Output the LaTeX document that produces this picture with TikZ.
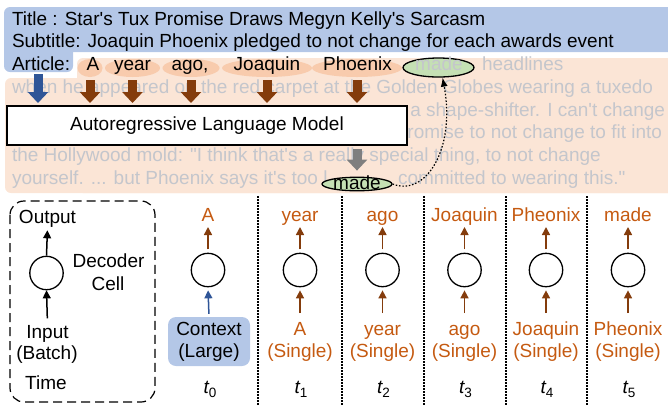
\documentclass[tikz,border=0pt]{standalone}
\usepackage{fontspec}
\setmainfont{Liberation Sans}[Ligatures=TeXOff]
\usetikzlibrary{arrows.meta,shapes.geometric}
\definecolor{tblue}{HTML}{B4C7E7}
\definecolor{peach}{HTML}{FBE5D6}
\definecolor{peachd}{HTML}{F8CBAD}
\definecolor{lgreen}{HTML}{C5E0B4}
\definecolor{brownA}{HTML}{843C0C}
\definecolor{orangeT}{HTML}{C55A11}
\definecolor{blueA}{HTML}{2F5597}
\definecolor{greyT}{RGB}{196,198,204}
\definecolor{greyA}{HTML}{7F7F7F}
\newcommand\myfs{\fontsize{19bp}{22.7bp}\selectfont}
\newcommand\mysubfs{\fontsize{13.5bp}{13.5bp}\selectfont}
\newcommand\tlab[1]{{\itshape t}\raisebox{-4bp}{\mysubfs #1}}
\begin{document}
\begin{tikzpicture}[x=1bp,y=-1bp,
  txt/.style={inner sep=0pt,outer sep=0pt,font=\myfs},
  lbl/.style={txt,anchor=base},
  hl/.style={ellipse,fill=peachd,inner sep=0pt,minimum height=18bp},
  greenell/.style={ellipse,draw,line width=1.3bp,fill=lgreen,inner sep=0pt},
  blk/.style={line width=9bp,-{Triangle[length=11bp,width=20bp]},shorten <=3bp,shorten >=3bp},
  sarr/.style={line width=1.5bp,-{Triangle[length=8bp,width=8bp]}},
  cell/.style={circle,draw,line width=1.3bp,minimum size=33.4bp,inner sep=0pt},
  sepl/.style={line width=1.2bp,dash pattern=on 1.5bp off 1.5bp},
]
\useasboundingbox (0,0) rectangle (668,405);
% title block
\fill[tblue,rounded corners=6bp] (4,7) rectangle (690,52);
\fill[tblue,rounded corners=6bp] (4,30) rectangle (73,72);
% article block
\fill[peach,rounded corners=6bp] (77,58) rectangle (690,193);
\fill[peach,rounded corners=6bp] (5,78) rectangle (690,193);
% highlight ellipses
\node[hl,minimum width=25bp] (e1) at (90,68) {};
\node[hl,minimum width=55bp] (e2) at (132.5,68) {};
\node[hl,minimum width=57bp] (e3) at (191,68) {};
\node[hl,minimum width=90bp] (e4) at (267,68) {};
\node[hl,minimum width=90bp] (e5) at (357,68) {};
% grey article text
\node[lbl,anchor=base west,text=greyT] (l1) at (482,70.5) {headlines};
\node[lbl,anchor=base west,text=greyT] (l2) at (12,93) {when he appeared on the red carpet at the Golden Globes wearing a tuxedo};
\node[lbl,anchor=base east,text=greyT] (l3) at (665,116) {a shape-shifter. I can't change};
\node[lbl,anchor=base east,text=greyT] (l4) at (662,138.5) {promise to not change to fit into};
\node[lbl,anchor=base west,text=greyT] (l5) at (12,161) {the Hollywood mold: "I think that's a really special thing, to not change};
\node[lbl,anchor=base west,text=greyT] (l6a) at (12,184) {yourself. ... but Phoenix says it's too l};
\node[lbl,anchor=base west,text=greyT] (l6b) at (398,184) {committed to wearing this."};
% upper made
\node[greenell,minimum width=71bp,minimum height=19bp] (m1) at (438.5,67.5) {};
\node[lbl,text=greyT] (m1t) at (439,70.5) {made};
% title texts
\node[lbl,anchor=base west] (title) at (12,25) {Title : Star's Tux Promise Draws Megyn Kelly's Sarcasm};
\node[lbl,anchor=base west] (subtitle) at (12,47.5) {Subtitle: Joaquin Phoenix pledged to not change for each awards event};
\node[lbl,anchor=base west] (art) at (12,70.5) {Article:};
% highlighted words
\node[lbl] (w1) at (93,70.5) {A};
\node[lbl] (w2) at (132.5,70.5) {year};
\node[lbl] (w3) at (190,70.5) {ago,};
\node[lbl] (w4) at (267,70.5) {Joaquin};
\node[lbl] (w5) at (357.5,70.5) {Phoenix};
% model box
\node[txt,draw,line width=1.5bp,fill=white,minimum width=400bp,minimum height=39bp] (model) at (207,125.5) {Autoregressive Language Model};
% block arrows
\coordinate (tabb) at (38,72);
\draw[blk,blueA,shorten <=2bp] (tabb) -- (model.north -| tabb);
\foreach \k in {1,...,5}{
  \draw[blk,brownA] (e\k.south) -- (model.north -| e\k.south);
}
% lower made
\node[greenell,minimum width=70bp,minimum height=13.5bp] (m2) at (357,184) {};
\node[lbl] (m2t) at (357,189) {made};
\draw[blk,greyA,shorten <=4bp,shorten >=6bp] (model.south -| m2) -- (m2.north);
\draw[line width=1.2bp,dash pattern=on 1.5bp off 1.8bp,-{Latex[length=9bp,width=7bp]}]
  (m2.east) .. controls (425,197) and (456,150) .. (m1.-68);
% legend
\draw[line width=1.2bp,dash pattern=on 9bp off 5bp,rounded corners=14bp] (10,201) rectangle (155,402);
\node[cell] (lc) at (46.5,273) {};
\node[lbl,text depth=4bp] (lo) at (47.5,223.3) {Output};
\node[lbl,text height=13.7bp] (li) at (47.5,338) {Input};
\node[lbl] (lb) at (47,359) {(Batch)};
\node[lbl] (lt) at (46,389) {Time};
\node[lbl] (ld) at (108.5,267.5) {Decoder};
\node[lbl] (lcell) at (108,290) {Cell};
\draw[sarr,shorten >=3bp] (lc.north) -- (lo.south);
\draw[sarr,shorten <=6bp] (li.north) -- (lc.south);
% separators
\foreach \x in {258,342,424,506,587}{
  \draw[sepl] (\x,196) -- (\x,405);
}
% t0 column
\node[cell] (c0) at (208,270) {};
\node[lbl,text=orangeT,text depth=4bp] (o0) at (208,221) {A};
\node[fill=tblue,rounded corners=8bp,minimum width=82bp,minimum height=49bp,inner sep=0pt] (ctx) at (209,341.5) {};
\node[lbl] (ctx1) at (209,335) {Context};
\node[lbl] (ctx2) at (209,357) {(Large)};
\node[lbl] (t0) at (210,393) {\tlab{0}};
\draw[sarr,brownA,shorten <=3.3bp,shorten >=2bp] (c0.north) -- (o0.south);
\draw[sarr,blueA,shorten <=3bp,shorten >=3bp] (ctx.north) -- (c0.south);
% other columns
\foreach \i/\x/\ow/\iw in {1/300/year/A,2/382.5/ago/year,3/464.5/Joaquin/ago,4/546/Pheonix/Joaquin,5/628/made/Pheonix}{
  \node[cell] (c\i) at (\x,270) {};
  \node[lbl,text=orangeT,text depth=4bp] (o\i) at (\x,221) {\ow};
  \node[lbl,text=orangeT,text height=13.7bp] (i\i) at (\x,335) {\iw};
  \node[lbl,text=orangeT] (s\i) at (\x,357) {(Single)};
  \node[lbl] (t\i) at (\x+1,393) {\tlab{\i}};
  \draw[sarr,brownA,shorten <=3.3bp,shorten >=2bp] (c\i.north) -- (o\i.south);
  \draw[sarr,brownA,shorten <=8.3bp,shorten >=3bp] (i\i.north) -- (c\i.south);
}
\end{tikzpicture}
\end{document}
